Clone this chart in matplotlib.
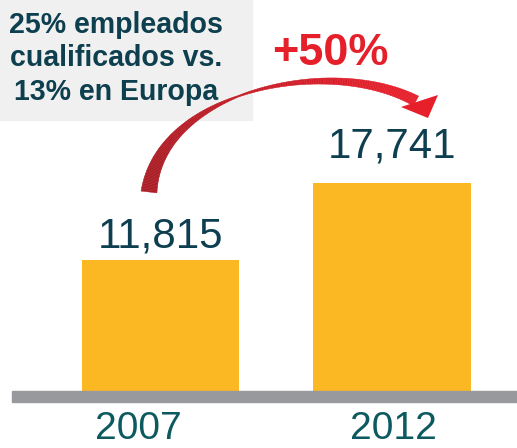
import numpy as np
import matplotlib
matplotlib.use('Agg')
import matplotlib.pyplot as plt
from matplotlib.patches import Rectangle, Polygon
from matplotlib.collections import PolyCollection
from matplotlib.colors import to_rgb

# datos
years = ['2007', '2012']
values = [11815, 17741]
value_labels = ['11,815', '17,741']
box_lines = ['25% empleados', 'cualificados vs.', '13% en Europa']
growth_label = '+50%'

W, H = 517, 448
DPI = 100
PX = 72.0 / DPI   # px -> pt

FONT = ['Liberation Sans', 'DejaVu Sans']

fig = plt.figure(figsize=(W / DPI, H / DPI), dpi=DPI)
ax = fig.add_axes([0, 0, 1, 1])
ax.axis('off')

# escala: x=0 -> 160.5px, x=1 -> 392px ; base de barras en y=391px
px_unit = 231.5
ax.set_xlim(-160.5 / px_unit, (W - 160.5) / px_unit)
base = 1733
k = 131.0 / (values[0] - base)   # px por unidad
ax.set_ylim(base - (H - 391) / k, base + 391 / k)

x = np.arange(len(values))
ax.bar(x, [v - base for v in values], bottom=base, width=157.5 / px_unit,
       color='#fbb822', zorder=2)

def fx(px):
    return px / W

def fy(py):
    return 1 - py / H

# linea gris de base
fig.patches.append(Rectangle((fx(12), fy(402)), fx(W - 12), 11 / H,
                             transform=fig.transFigure, color='#98999d', zorder=3))

# etiquetas de valor
label_pad_px = [13, 26]
for xi, v, lab, pad in zip(x, values, value_labels, label_pad_px):
    ax.annotate(lab, (xi, v), xytext=(0, pad * PX), textcoords='offset points',
                ha='center', va='baseline', fontsize=42 * PX, family=FONT,
                color='#0e3f50', zorder=5)

# años
year_shift_px = [-22, 1]
for xi, yr, sh in zip(x, years, year_shift_px):
    ax.annotate(yr, (xi, base), xytext=(sh * PX, -48 * PX), textcoords='offset points',
                ha='center', va='baseline', fontsize=39 * PX, family=FONT,
                color='#0c5a60', zorder=5)

# caja gris con texto
fig.patches.append(Rectangle((0, fy(120)), fx(252), 120 / H,
                             transform=fig.transFigure, color='#f0f0f0', zorder=1))
for i, line in enumerate(box_lines):
    fig.text(fx(116), fy(33 + 33.5 * i), line, ha='center', va='baseline',
             fontsize=28.5 * PX, fontweight='bold', family=FONT, color='#0d3f4f',
             zorder=6)

# +50%
fig.text(fx(330), fy(65), growth_label, ha='center', va='baseline',
         fontsize=45 * PX, fontweight='bold', family=FONT, color='#e5202b', zorder=6)

# flecha curva (px desde arriba)
P = np.array([[149, 192], [160, 90], [330, 55], [416, 101]], dtype=float)
t = np.linspace(0, 1, 200)
B = ((1 - t) ** 3)[:, None] * P[0] + (3 * (1 - t) ** 2 * t)[:, None] * P[1] \
    + (3 * (1 - t) * t ** 2)[:, None] * P[2] + (t ** 3)[:, None] * P[3]
d = np.gradient(B, axis=0)
d /= np.linalg.norm(d, axis=1)[:, None]
nrm = np.column_stack([-d[:, 1], d[:, 0]])
wid = np.interp(t, [0, 0.2, 0.45, 0.7, 1], [16, 9, 1.5, 6, 11])
left = B + nrm * wid[:, None] / 2
right = B - nrm * wid[:, None] / 2
c0, c1 = np.array(to_rgb('#ab1c24')), np.array(to_rgb('#e61f2b'))
cols = c0 + (c1 - c0) * np.clip((t[:-1] - 0.1) / 0.8, 0, 1)[:, None]
quads = []
for i in range(len(t) - 1):
    q = [left[i], left[i + 1], right[i + 1], right[i]]
    quads.append([(fx(a), fy(b)) for a, b in q])
pc = PolyCollection(quads, facecolors=cols, edgecolors=cols, linewidths=0.3,
                    transform=fig.transFigure, zorder=4)
fig.add_artist(pc)
head = [(401, 107), (438, 95), (428, 118)]
fig.add_artist(Polygon([(fx(a), fy(b)) for a, b in head], closed=True,
                       transform=fig.transFigure, color='#e61f2b', lw=0, zorder=4))

fig.savefig('out.png', dpi=DPI)
